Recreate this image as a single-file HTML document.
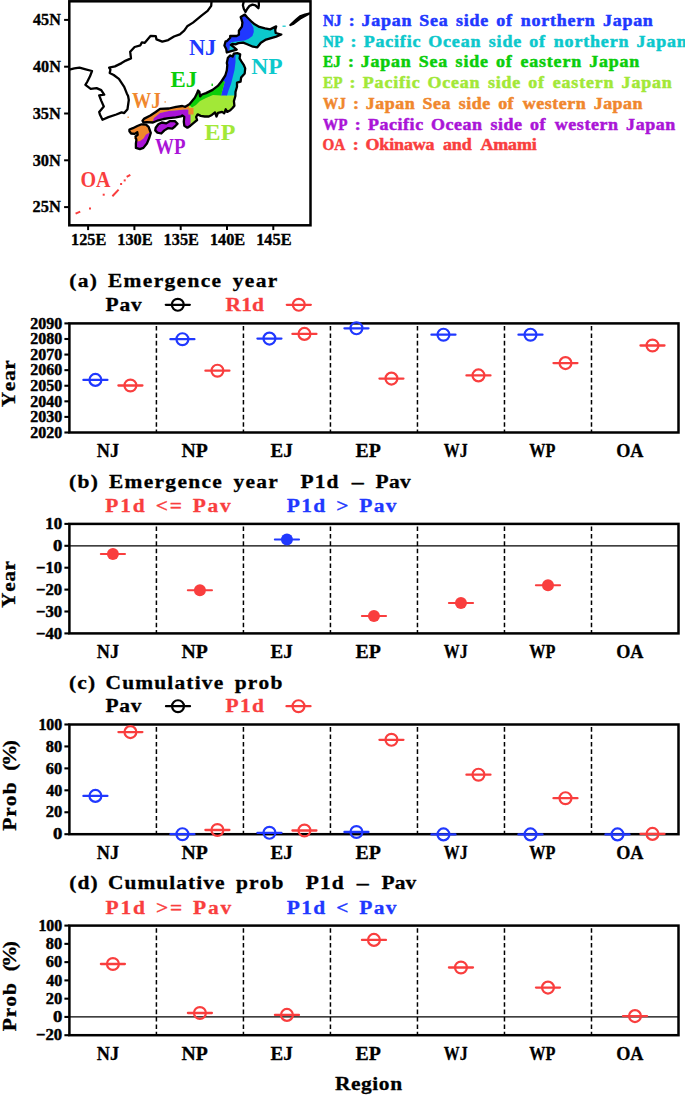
<!DOCTYPE html>
<html><head><meta charset="utf-8"><title>Figure</title>
<style>html,body{margin:0;padding:0;background:#fff;width:685px;height:1095px;overflow:hidden}svg{display:block}</style>
</head><body>
<svg width="685" height="1095" viewBox="0 0 685 1095">
<rect width="685" height="1095" fill="#fff"/>
<text transform="scale(1.1000,1)" x="62.96" y="287.40" fill="#000" style="font-family:'Liberation Serif';font-weight:bold;font-size:19.5px;font-kerning:none;letter-spacing:1.229px;stroke:#000;stroke-width:0.3px;stroke-linejoin:round">(a)</text>
<text transform="scale(1.1000,1)" x="98.13" y="287.40" fill="#000" style="font-family:'Liberation Serif';font-weight:bold;font-size:19.5px;font-kerning:none;letter-spacing:1.229px;stroke:#000;stroke-width:0.3px;stroke-linejoin:round">Emergence</text>
<text transform="scale(1.1000,1)" x="211.56" y="287.40" fill="#000" style="font-family:'Liberation Serif';font-weight:bold;font-size:19.5px;font-kerning:none;letter-spacing:1.229px;stroke:#000;stroke-width:0.3px;stroke-linejoin:round">year</text>
<text transform="scale(1.1000,1)" x="95.85" y="311.00" fill="#000" style="font-family:'Liberation Serif';font-weight:bold;font-size:19.5px;font-kerning:none;letter-spacing:0.779px;stroke:#000;stroke-width:0.3px;stroke-linejoin:round">Pav</text>
<line x1="165.80" y1="304.80" x2="189.80" y2="304.80" stroke="#000" stroke-width="2.3" stroke-linecap="round"/>
<circle cx="177.80" cy="304.80" r="5.95" fill="none" stroke="#000" stroke-width="2.2"/>
<text transform="scale(1.1000,1)" x="205.03" y="311.00" fill="#f93e3e" style="font-family:'Liberation Serif';font-weight:bold;font-size:19.5px;font-kerning:none;letter-spacing:0.165px;stroke:#f93e3e;stroke-width:0.3px;stroke-linejoin:round">R1d</text>
<line x1="286.80" y1="304.80" x2="310.80" y2="304.80" stroke="#f93e3e" stroke-width="2.3" stroke-linecap="round"/>
<circle cx="298.80" cy="304.80" r="5.95" fill="none" stroke="#f93e3e" stroke-width="2.2"/>
<line x1="156.41" y1="323.40" x2="156.41" y2="432.50" stroke="#000" stroke-width="1.5" stroke-dasharray="4.6 2.8" stroke-dashoffset="-2.6"/>
<line x1="243.43" y1="323.40" x2="243.43" y2="432.50" stroke="#000" stroke-width="1.5" stroke-dasharray="4.6 2.8" stroke-dashoffset="-2.6"/>
<line x1="330.44" y1="323.40" x2="330.44" y2="432.50" stroke="#000" stroke-width="1.5" stroke-dasharray="4.6 2.8" stroke-dashoffset="-2.6"/>
<line x1="417.46" y1="323.40" x2="417.46" y2="432.50" stroke="#000" stroke-width="1.5" stroke-dasharray="4.6 2.8" stroke-dashoffset="-2.6"/>
<line x1="504.47" y1="323.40" x2="504.47" y2="432.50" stroke="#000" stroke-width="1.5" stroke-dasharray="4.6 2.8" stroke-dashoffset="-2.6"/>
<line x1="591.49" y1="323.40" x2="591.49" y2="432.50" stroke="#000" stroke-width="1.5" stroke-dasharray="4.6 2.8" stroke-dashoffset="-2.6"/>
<line x1="64.4" y1="323.40" x2="69.40" y2="323.40" stroke="#000" stroke-width="2.1"/>
<text transform="scale(0.9961,1)" x="30.45" y="328.60" fill="#000" style="font-family:'Liberation Serif';font-weight:bold;font-size:16.0px;font-kerning:none;letter-spacing:0.000px;stroke:#000;stroke-width:0.45px;stroke-linejoin:round">2090</text>
<line x1="64.4" y1="338.99" x2="69.40" y2="338.99" stroke="#000" stroke-width="2.1"/>
<text transform="scale(0.9961,1)" x="30.45" y="344.19" fill="#000" style="font-family:'Liberation Serif';font-weight:bold;font-size:16.0px;font-kerning:none;letter-spacing:0.000px;stroke:#000;stroke-width:0.45px;stroke-linejoin:round">2080</text>
<line x1="64.4" y1="354.57" x2="69.40" y2="354.57" stroke="#000" stroke-width="2.1"/>
<text transform="scale(0.9961,1)" x="30.45" y="359.77" fill="#000" style="font-family:'Liberation Serif';font-weight:bold;font-size:16.0px;font-kerning:none;letter-spacing:0.000px;stroke:#000;stroke-width:0.45px;stroke-linejoin:round">2070</text>
<line x1="64.4" y1="370.16" x2="69.40" y2="370.16" stroke="#000" stroke-width="2.1"/>
<text transform="scale(0.9961,1)" x="30.45" y="375.36" fill="#000" style="font-family:'Liberation Serif';font-weight:bold;font-size:16.0px;font-kerning:none;letter-spacing:0.000px;stroke:#000;stroke-width:0.45px;stroke-linejoin:round">2060</text>
<line x1="64.4" y1="385.74" x2="69.40" y2="385.74" stroke="#000" stroke-width="2.1"/>
<text transform="scale(0.9961,1)" x="30.45" y="390.94" fill="#000" style="font-family:'Liberation Serif';font-weight:bold;font-size:16.0px;font-kerning:none;letter-spacing:0.000px;stroke:#000;stroke-width:0.45px;stroke-linejoin:round">2050</text>
<line x1="64.4" y1="401.33" x2="69.40" y2="401.33" stroke="#000" stroke-width="2.1"/>
<text transform="scale(0.9961,1)" x="30.45" y="406.53" fill="#000" style="font-family:'Liberation Serif';font-weight:bold;font-size:16.0px;font-kerning:none;letter-spacing:0.000px;stroke:#000;stroke-width:0.45px;stroke-linejoin:round">2040</text>
<line x1="64.4" y1="416.91" x2="69.40" y2="416.91" stroke="#000" stroke-width="2.1"/>
<text transform="scale(0.9961,1)" x="30.45" y="422.11" fill="#000" style="font-family:'Liberation Serif';font-weight:bold;font-size:16.0px;font-kerning:none;letter-spacing:0.000px;stroke:#000;stroke-width:0.45px;stroke-linejoin:round">2030</text>
<line x1="64.4" y1="432.50" x2="69.40" y2="432.50" stroke="#000" stroke-width="2.1"/>
<text transform="scale(0.9961,1)" x="30.45" y="437.70" fill="#000" style="font-family:'Liberation Serif';font-weight:bold;font-size:16.0px;font-kerning:none;letter-spacing:0.000px;stroke:#000;stroke-width:0.45px;stroke-linejoin:round">2020</text>
<rect x="69.40" y="323.40" width="609.10" height="109.10" fill="none" stroke="#000" stroke-width="2.5"/>
<text transform="scale(0.9334,1)" x="103.77" y="457.10" fill="#000" style="font-family:'Liberation Serif';font-weight:bold;font-size:19.5px;font-kerning:none;letter-spacing:0.000px;stroke:#000;stroke-width:0.3px;stroke-linejoin:round">NJ</text>
<text transform="scale(1.0132,1)" x="179.26" y="457.10" fill="#000" style="font-family:'Liberation Serif';font-weight:bold;font-size:19.5px;font-kerning:none;letter-spacing:0.000px;stroke:#000;stroke-width:0.3px;stroke-linejoin:round">NP</text>
<text transform="scale(0.9822,1)" x="275.48" y="457.10" fill="#000" style="font-family:'Liberation Serif';font-weight:bold;font-size:19.5px;font-kerning:none;letter-spacing:0.000px;stroke:#000;stroke-width:0.3px;stroke-linejoin:round">EJ</text>
<text transform="scale(1.0195,1)" x="348.77" y="457.10" fill="#000" style="font-family:'Liberation Serif';font-weight:bold;font-size:19.5px;font-kerning:none;letter-spacing:0.000px;stroke:#000;stroke-width:0.3px;stroke-linejoin:round">EP</text>
<text transform="scale(0.8157,1)" x="544.14" y="457.10" fill="#000" style="font-family:'Liberation Serif';font-weight:bold;font-size:19.5px;font-kerning:none;letter-spacing:0.000px;stroke:#000;stroke-width:0.3px;stroke-linejoin:round">WJ</text>
<text transform="scale(0.8338,1)" x="634.77" y="457.10" fill="#000" style="font-family:'Liberation Serif';font-weight:bold;font-size:19.5px;font-kerning:none;letter-spacing:0.000px;stroke:#000;stroke-width:0.3px;stroke-linejoin:round">WP</text>
<text transform="scale(0.9341,1)" x="659.67" y="457.10" fill="#000" style="font-family:'Liberation Serif';font-weight:bold;font-size:19.5px;font-kerning:none;letter-spacing:0.000px;stroke:#000;stroke-width:0.3px;stroke-linejoin:round">OA</text>
<g transform="translate(15.30,0) rotate(-90)">
<text transform="scale(1.1000,1)" x="-370.16" y="0.00" fill="#000" style="font-family:'Liberation Serif';font-weight:bold;font-size:19.5px;font-kerning:none;letter-spacing:0.479px;stroke:#000;stroke-width:0.3px;stroke-linejoin:round">Year</text>
</g>
<line x1="83.41" y1="379.90" x2="107.41" y2="379.90" stroke="#2038ff" stroke-width="2.3" stroke-linecap="round"/>
<circle cx="95.41" cy="379.90" r="5.95" fill="none" stroke="#2038ff" stroke-width="2.2"/>
<line x1="118.41" y1="385.50" x2="142.41" y2="385.50" stroke="#f93e3e" stroke-width="2.3" stroke-linecap="round"/>
<circle cx="130.41" cy="385.50" r="5.95" fill="none" stroke="#f93e3e" stroke-width="2.2"/>
<line x1="170.42" y1="339.20" x2="194.42" y2="339.20" stroke="#2038ff" stroke-width="2.3" stroke-linecap="round"/>
<circle cx="182.42" cy="339.20" r="5.95" fill="none" stroke="#2038ff" stroke-width="2.2"/>
<line x1="205.42" y1="370.70" x2="229.42" y2="370.70" stroke="#f93e3e" stroke-width="2.3" stroke-linecap="round"/>
<circle cx="217.42" cy="370.70" r="5.95" fill="none" stroke="#f93e3e" stroke-width="2.2"/>
<line x1="257.44" y1="338.60" x2="281.44" y2="338.60" stroke="#2038ff" stroke-width="2.3" stroke-linecap="round"/>
<circle cx="269.44" cy="338.60" r="5.95" fill="none" stroke="#2038ff" stroke-width="2.2"/>
<line x1="292.44" y1="333.90" x2="316.44" y2="333.90" stroke="#f93e3e" stroke-width="2.3" stroke-linecap="round"/>
<circle cx="304.44" cy="333.90" r="5.95" fill="none" stroke="#f93e3e" stroke-width="2.2"/>
<line x1="344.45" y1="328.30" x2="368.45" y2="328.30" stroke="#2038ff" stroke-width="2.3" stroke-linecap="round"/>
<circle cx="356.45" cy="328.30" r="5.95" fill="none" stroke="#2038ff" stroke-width="2.2"/>
<line x1="379.45" y1="378.60" x2="403.45" y2="378.60" stroke="#f93e3e" stroke-width="2.3" stroke-linecap="round"/>
<circle cx="391.45" cy="378.60" r="5.95" fill="none" stroke="#f93e3e" stroke-width="2.2"/>
<line x1="431.46" y1="334.70" x2="455.46" y2="334.70" stroke="#2038ff" stroke-width="2.3" stroke-linecap="round"/>
<circle cx="443.46" cy="334.70" r="5.95" fill="none" stroke="#2038ff" stroke-width="2.2"/>
<line x1="466.46" y1="375.40" x2="490.46" y2="375.40" stroke="#f93e3e" stroke-width="2.3" stroke-linecap="round"/>
<circle cx="478.46" cy="375.40" r="5.95" fill="none" stroke="#f93e3e" stroke-width="2.2"/>
<line x1="518.48" y1="334.70" x2="542.48" y2="334.70" stroke="#2038ff" stroke-width="2.3" stroke-linecap="round"/>
<circle cx="530.48" cy="334.70" r="5.95" fill="none" stroke="#2038ff" stroke-width="2.2"/>
<line x1="553.48" y1="363.10" x2="577.48" y2="363.10" stroke="#f93e3e" stroke-width="2.3" stroke-linecap="round"/>
<circle cx="565.48" cy="363.10" r="5.95" fill="none" stroke="#f93e3e" stroke-width="2.2"/>
<line x1="640.49" y1="345.50" x2="664.49" y2="345.50" stroke="#f93e3e" stroke-width="2.3" stroke-linecap="round"/>
<circle cx="652.49" cy="345.50" r="5.95" fill="none" stroke="#f93e3e" stroke-width="2.2"/>
<text transform="scale(1.1000,1)" x="62.78" y="487.80" fill="#000" style="font-family:'Liberation Serif';font-weight:bold;font-size:19.5px;font-kerning:none;letter-spacing:1.201px;stroke:#000;stroke-width:0.3px;stroke-linejoin:round">(b)</text>
<text transform="scale(1.1000,1)" x="98.99" y="487.80" fill="#000" style="font-family:'Liberation Serif';font-weight:bold;font-size:19.5px;font-kerning:none;letter-spacing:1.201px;stroke:#000;stroke-width:0.3px;stroke-linejoin:round">Emergence</text>
<text transform="scale(1.1000,1)" x="212.19" y="487.80" fill="#000" style="font-family:'Liberation Serif';font-weight:bold;font-size:19.5px;font-kerning:none;letter-spacing:1.201px;stroke:#000;stroke-width:0.3px;stroke-linejoin:round">year</text>
<text transform="scale(1.1000,1)" x="273.30" y="487.80" fill="#000" style="font-family:'Liberation Serif';font-weight:bold;font-size:19.5px;font-kerning:none;letter-spacing:0.932px;stroke:#000;stroke-width:0.3px;stroke-linejoin:round">P1d</text>
<text transform="scale(1.2280,1)" x="286.38" y="487.80" fill="#000" style="font-family:'Liberation Serif';font-weight:bold;font-size:19.5px;font-kerning:none;letter-spacing:0.000px;stroke:#000;stroke-width:0.3px;stroke-linejoin:round">–</text>
<text transform="scale(1.1000,1)" x="341.48" y="487.80" fill="#000" style="font-family:'Liberation Serif';font-weight:bold;font-size:19.5px;font-kerning:none;letter-spacing:0.279px;stroke:#000;stroke-width:0.3px;stroke-linejoin:round">Pav</text>
<text transform="scale(1.1000,1)" x="95.76" y="511.80" fill="#f93e3e" style="font-family:'Liberation Serif';font-weight:bold;font-size:19.5px;font-kerning:none;letter-spacing:1.637px;stroke:#f93e3e;stroke-width:0.3px;stroke-linejoin:round">P1d</text>
<text transform="scale(1.1000,1)" x="141.52" y="511.80" fill="#f93e3e" style="font-family:'Liberation Serif';font-weight:bold;font-size:19.5px;font-kerning:none;letter-spacing:1.637px;stroke:#f93e3e;stroke-width:0.3px;stroke-linejoin:round">&lt;=</text>
<text transform="scale(1.1000,1)" x="175.13" y="511.80" fill="#f93e3e" style="font-family:'Liberation Serif';font-weight:bold;font-size:19.5px;font-kerning:none;letter-spacing:1.637px;stroke:#f93e3e;stroke-width:0.3px;stroke-linejoin:round">Pav</text>
<text transform="scale(1.1000,1)" x="260.76" y="511.80" fill="#2038ff" style="font-family:'Liberation Serif';font-weight:bold;font-size:19.5px;font-kerning:none;letter-spacing:1.233px;stroke:#2038ff;stroke-width:0.3px;stroke-linejoin:round">P1d</text>
<text transform="scale(1.1000,1)" x="305.69" y="511.80" fill="#2038ff" style="font-family:'Liberation Serif';font-weight:bold;font-size:19.5px;font-kerning:none;letter-spacing:0.000px;stroke:#2038ff;stroke-width:0.3px;stroke-linejoin:round">&gt;</text>
<text transform="scale(1.1000,1)" x="326.58" y="511.80" fill="#2038ff" style="font-family:'Liberation Serif';font-weight:bold;font-size:19.5px;font-kerning:none;letter-spacing:1.233px;stroke:#2038ff;stroke-width:0.3px;stroke-linejoin:round">Pav</text>
<line x1="156.41" y1="523.90" x2="156.41" y2="633.40" stroke="#000" stroke-width="1.5" stroke-dasharray="4.6 2.8" stroke-dashoffset="-2.6"/>
<line x1="243.43" y1="523.90" x2="243.43" y2="633.40" stroke="#000" stroke-width="1.5" stroke-dasharray="4.6 2.8" stroke-dashoffset="-2.6"/>
<line x1="330.44" y1="523.90" x2="330.44" y2="633.40" stroke="#000" stroke-width="1.5" stroke-dasharray="4.6 2.8" stroke-dashoffset="-2.6"/>
<line x1="417.46" y1="523.90" x2="417.46" y2="633.40" stroke="#000" stroke-width="1.5" stroke-dasharray="4.6 2.8" stroke-dashoffset="-2.6"/>
<line x1="504.47" y1="523.90" x2="504.47" y2="633.40" stroke="#000" stroke-width="1.5" stroke-dasharray="4.6 2.8" stroke-dashoffset="-2.6"/>
<line x1="591.49" y1="523.90" x2="591.49" y2="633.40" stroke="#000" stroke-width="1.5" stroke-dasharray="4.6 2.8" stroke-dashoffset="-2.6"/>
<line x1="69.40" y1="545.80" x2="678.50" y2="545.80" stroke="#000" stroke-width="1.2"/>
<line x1="64.4" y1="523.90" x2="69.40" y2="523.90" stroke="#000" stroke-width="2.1"/>
<text transform="scale(1.0560,1)" x="42.94" y="529.10" fill="#000" style="font-family:'Liberation Serif';font-weight:bold;font-size:16.0px;font-kerning:none;letter-spacing:0.000px;stroke:#000;stroke-width:0.45px;stroke-linejoin:round">10</text>
<line x1="64.4" y1="545.80" x2="69.40" y2="545.80" stroke="#000" stroke-width="2.1"/>
<text transform="scale(1.1650,1)" x="45.49" y="551.00" fill="#000" style="font-family:'Liberation Serif';font-weight:bold;font-size:16.0px;font-kerning:none;letter-spacing:0.000px;stroke:#000;stroke-width:0.45px;stroke-linejoin:round">0</text>
<line x1="64.4" y1="567.70" x2="69.40" y2="567.70" stroke="#000" stroke-width="2.1"/>
<text transform="scale(1.0438,1)" x="34.51" y="572.90" fill="#000" style="font-family:'Liberation Serif';font-weight:bold;font-size:16.0px;font-kerning:none;letter-spacing:0.000px;stroke:#000;stroke-width:0.45px;stroke-linejoin:round">−10</text>
<line x1="64.4" y1="589.60" x2="69.40" y2="589.60" stroke="#000" stroke-width="2.1"/>
<text transform="scale(1.0438,1)" x="34.51" y="594.80" fill="#000" style="font-family:'Liberation Serif';font-weight:bold;font-size:16.0px;font-kerning:none;letter-spacing:0.000px;stroke:#000;stroke-width:0.45px;stroke-linejoin:round">−20</text>
<line x1="64.4" y1="611.50" x2="69.40" y2="611.50" stroke="#000" stroke-width="2.1"/>
<text transform="scale(1.0438,1)" x="34.51" y="616.70" fill="#000" style="font-family:'Liberation Serif';font-weight:bold;font-size:16.0px;font-kerning:none;letter-spacing:0.000px;stroke:#000;stroke-width:0.45px;stroke-linejoin:round">−30</text>
<line x1="64.4" y1="633.40" x2="69.40" y2="633.40" stroke="#000" stroke-width="2.1"/>
<text transform="scale(1.0438,1)" x="34.51" y="638.60" fill="#000" style="font-family:'Liberation Serif';font-weight:bold;font-size:16.0px;font-kerning:none;letter-spacing:0.000px;stroke:#000;stroke-width:0.45px;stroke-linejoin:round">−40</text>
<rect x="69.40" y="523.90" width="609.10" height="109.50" fill="none" stroke="#000" stroke-width="2.5"/>
<text transform="scale(0.9334,1)" x="103.77" y="658.00" fill="#000" style="font-family:'Liberation Serif';font-weight:bold;font-size:19.5px;font-kerning:none;letter-spacing:0.000px;stroke:#000;stroke-width:0.3px;stroke-linejoin:round">NJ</text>
<text transform="scale(1.0132,1)" x="179.26" y="658.00" fill="#000" style="font-family:'Liberation Serif';font-weight:bold;font-size:19.5px;font-kerning:none;letter-spacing:0.000px;stroke:#000;stroke-width:0.3px;stroke-linejoin:round">NP</text>
<text transform="scale(0.9822,1)" x="275.48" y="658.00" fill="#000" style="font-family:'Liberation Serif';font-weight:bold;font-size:19.5px;font-kerning:none;letter-spacing:0.000px;stroke:#000;stroke-width:0.3px;stroke-linejoin:round">EJ</text>
<text transform="scale(1.0195,1)" x="348.77" y="658.00" fill="#000" style="font-family:'Liberation Serif';font-weight:bold;font-size:19.5px;font-kerning:none;letter-spacing:0.000px;stroke:#000;stroke-width:0.3px;stroke-linejoin:round">EP</text>
<text transform="scale(0.8157,1)" x="544.14" y="658.00" fill="#000" style="font-family:'Liberation Serif';font-weight:bold;font-size:19.5px;font-kerning:none;letter-spacing:0.000px;stroke:#000;stroke-width:0.3px;stroke-linejoin:round">WJ</text>
<text transform="scale(0.8338,1)" x="634.77" y="658.00" fill="#000" style="font-family:'Liberation Serif';font-weight:bold;font-size:19.5px;font-kerning:none;letter-spacing:0.000px;stroke:#000;stroke-width:0.3px;stroke-linejoin:round">WP</text>
<text transform="scale(0.9341,1)" x="659.67" y="658.00" fill="#000" style="font-family:'Liberation Serif';font-weight:bold;font-size:19.5px;font-kerning:none;letter-spacing:0.000px;stroke:#000;stroke-width:0.3px;stroke-linejoin:round">OA</text>
<g transform="translate(15.30,0) rotate(-90)">
<text transform="scale(1.1000,1)" x="-552.62" y="0.00" fill="#000" style="font-family:'Liberation Serif';font-weight:bold;font-size:19.5px;font-kerning:none;letter-spacing:0.479px;stroke:#000;stroke-width:0.3px;stroke-linejoin:round">Year</text>
</g>
<line x1="100.81" y1="553.90" x2="125.01" y2="553.90" stroke="#f93e3e" stroke-width="2" stroke-linecap="round"/>
<circle cx="112.91" cy="553.90" r="6" fill="#f93e3e"/>
<line x1="187.82" y1="590.20" x2="212.02" y2="590.20" stroke="#f93e3e" stroke-width="2" stroke-linecap="round"/>
<circle cx="199.92" cy="590.20" r="6" fill="#f93e3e"/>
<line x1="274.84" y1="539.40" x2="299.04" y2="539.40" stroke="#2038ff" stroke-width="2" stroke-linecap="round"/>
<circle cx="286.94" cy="539.40" r="6" fill="#2038ff"/>
<line x1="361.85" y1="616.10" x2="386.05" y2="616.10" stroke="#f93e3e" stroke-width="2" stroke-linecap="round"/>
<circle cx="373.95" cy="616.10" r="6" fill="#f93e3e"/>
<line x1="448.86" y1="602.90" x2="473.06" y2="602.90" stroke="#f93e3e" stroke-width="2" stroke-linecap="round"/>
<circle cx="460.96" cy="602.90" r="6" fill="#f93e3e"/>
<line x1="535.88" y1="585.30" x2="560.08" y2="585.30" stroke="#f93e3e" stroke-width="2" stroke-linecap="round"/>
<circle cx="547.98" cy="585.30" r="6" fill="#f93e3e"/>
<text transform="scale(1.1000,1)" x="62.78" y="688.60" fill="#000" style="font-family:'Liberation Serif';font-weight:bold;font-size:19.5px;font-kerning:none;letter-spacing:1.065px;stroke:#000;stroke-width:0.3px;stroke-linejoin:round">(c)</text>
<text transform="scale(1.1000,1)" x="95.91" y="688.60" fill="#000" style="font-family:'Liberation Serif';font-weight:bold;font-size:19.5px;font-kerning:none;letter-spacing:1.065px;stroke:#000;stroke-width:0.3px;stroke-linejoin:round">Cumulative</text>
<text transform="scale(1.1000,1)" x="213.41" y="688.60" fill="#000" style="font-family:'Liberation Serif';font-weight:bold;font-size:19.5px;font-kerning:none;letter-spacing:1.065px;stroke:#000;stroke-width:0.3px;stroke-linejoin:round">prob</text>
<text transform="scale(1.1000,1)" x="95.85" y="712.20" fill="#000" style="font-family:'Liberation Serif';font-weight:bold;font-size:19.5px;font-kerning:none;letter-spacing:0.734px;stroke:#000;stroke-width:0.3px;stroke-linejoin:round">Pav</text>
<line x1="166.00" y1="706.20" x2="190.00" y2="706.20" stroke="#000" stroke-width="2.3" stroke-linecap="round"/>
<circle cx="178.00" cy="706.20" r="5.95" fill="none" stroke="#000" stroke-width="2.2"/>
<text transform="scale(1.1000,1)" x="205.12" y="712.20" fill="#f93e3e" style="font-family:'Liberation Serif';font-weight:bold;font-size:19.5px;font-kerning:none;letter-spacing:1.114px;stroke:#f93e3e;stroke-width:0.3px;stroke-linejoin:round">P1d</text>
<line x1="286.50" y1="706.20" x2="310.50" y2="706.20" stroke="#f93e3e" stroke-width="2.3" stroke-linecap="round"/>
<circle cx="298.50" cy="706.20" r="5.95" fill="none" stroke="#f93e3e" stroke-width="2.2"/>
<line x1="156.41" y1="724.50" x2="156.41" y2="834.20" stroke="#000" stroke-width="1.5" stroke-dasharray="4.6 2.8" stroke-dashoffset="-2.6"/>
<line x1="243.43" y1="724.50" x2="243.43" y2="834.20" stroke="#000" stroke-width="1.5" stroke-dasharray="4.6 2.8" stroke-dashoffset="-2.6"/>
<line x1="330.44" y1="724.50" x2="330.44" y2="834.20" stroke="#000" stroke-width="1.5" stroke-dasharray="4.6 2.8" stroke-dashoffset="-2.6"/>
<line x1="417.46" y1="724.50" x2="417.46" y2="834.20" stroke="#000" stroke-width="1.5" stroke-dasharray="4.6 2.8" stroke-dashoffset="-2.6"/>
<line x1="504.47" y1="724.50" x2="504.47" y2="834.20" stroke="#000" stroke-width="1.5" stroke-dasharray="4.6 2.8" stroke-dashoffset="-2.6"/>
<line x1="591.49" y1="724.50" x2="591.49" y2="834.20" stroke="#000" stroke-width="1.5" stroke-dasharray="4.6 2.8" stroke-dashoffset="-2.6"/>
<line x1="64.4" y1="724.50" x2="69.40" y2="724.50" stroke="#000" stroke-width="2.1"/>
<text transform="scale(0.9905,1)" x="38.80" y="729.70" fill="#000" style="font-family:'Liberation Serif';font-weight:bold;font-size:16.0px;font-kerning:none;letter-spacing:0.000px;stroke:#000;stroke-width:0.45px;stroke-linejoin:round">100</text>
<line x1="64.4" y1="746.44" x2="69.40" y2="746.44" stroke="#000" stroke-width="2.1"/>
<text transform="scale(1.0229,1)" x="44.83" y="751.64" fill="#000" style="font-family:'Liberation Serif';font-weight:bold;font-size:16.0px;font-kerning:none;letter-spacing:0.000px;stroke:#000;stroke-width:0.45px;stroke-linejoin:round">80</text>
<line x1="64.4" y1="768.38" x2="69.40" y2="768.38" stroke="#000" stroke-width="2.1"/>
<text transform="scale(1.0240,1)" x="44.77" y="773.58" fill="#000" style="font-family:'Liberation Serif';font-weight:bold;font-size:16.0px;font-kerning:none;letter-spacing:0.000px;stroke:#000;stroke-width:0.45px;stroke-linejoin:round">60</text>
<line x1="64.4" y1="790.32" x2="69.40" y2="790.32" stroke="#000" stroke-width="2.1"/>
<text transform="scale(1.0019,1)" x="46.10" y="795.52" fill="#000" style="font-family:'Liberation Serif';font-weight:bold;font-size:16.0px;font-kerning:none;letter-spacing:0.000px;stroke:#000;stroke-width:0.45px;stroke-linejoin:round">40</text>
<line x1="64.4" y1="812.26" x2="69.40" y2="812.26" stroke="#000" stroke-width="2.1"/>
<text transform="scale(1.0327,1)" x="44.26" y="817.46" fill="#000" style="font-family:'Liberation Serif';font-weight:bold;font-size:16.0px;font-kerning:none;letter-spacing:0.000px;stroke:#000;stroke-width:0.45px;stroke-linejoin:round">20</text>
<line x1="64.4" y1="834.20" x2="69.40" y2="834.20" stroke="#000" stroke-width="2.1"/>
<text transform="scale(1.1650,1)" x="45.49" y="839.40" fill="#000" style="font-family:'Liberation Serif';font-weight:bold;font-size:16.0px;font-kerning:none;letter-spacing:0.000px;stroke:#000;stroke-width:0.45px;stroke-linejoin:round">0</text>
<rect x="69.40" y="724.50" width="609.10" height="109.70" fill="none" stroke="#000" stroke-width="2.5"/>
<text transform="scale(0.9334,1)" x="103.77" y="858.80" fill="#000" style="font-family:'Liberation Serif';font-weight:bold;font-size:19.5px;font-kerning:none;letter-spacing:0.000px;stroke:#000;stroke-width:0.3px;stroke-linejoin:round">NJ</text>
<text transform="scale(1.0132,1)" x="179.26" y="858.80" fill="#000" style="font-family:'Liberation Serif';font-weight:bold;font-size:19.5px;font-kerning:none;letter-spacing:0.000px;stroke:#000;stroke-width:0.3px;stroke-linejoin:round">NP</text>
<text transform="scale(0.9822,1)" x="275.48" y="858.80" fill="#000" style="font-family:'Liberation Serif';font-weight:bold;font-size:19.5px;font-kerning:none;letter-spacing:0.000px;stroke:#000;stroke-width:0.3px;stroke-linejoin:round">EJ</text>
<text transform="scale(1.0195,1)" x="348.77" y="858.80" fill="#000" style="font-family:'Liberation Serif';font-weight:bold;font-size:19.5px;font-kerning:none;letter-spacing:0.000px;stroke:#000;stroke-width:0.3px;stroke-linejoin:round">EP</text>
<text transform="scale(0.8157,1)" x="544.14" y="858.80" fill="#000" style="font-family:'Liberation Serif';font-weight:bold;font-size:19.5px;font-kerning:none;letter-spacing:0.000px;stroke:#000;stroke-width:0.3px;stroke-linejoin:round">WJ</text>
<text transform="scale(0.8338,1)" x="634.77" y="858.80" fill="#000" style="font-family:'Liberation Serif';font-weight:bold;font-size:19.5px;font-kerning:none;letter-spacing:0.000px;stroke:#000;stroke-width:0.3px;stroke-linejoin:round">WP</text>
<text transform="scale(0.9341,1)" x="659.67" y="858.80" fill="#000" style="font-family:'Liberation Serif';font-weight:bold;font-size:19.5px;font-kerning:none;letter-spacing:0.000px;stroke:#000;stroke-width:0.3px;stroke-linejoin:round">OA</text>
<g transform="translate(15.80,0) rotate(-90)">
<text transform="scale(1.1000,1)" x="-755.33" y="0.00" fill="#000" style="font-family:'Liberation Serif';font-weight:bold;font-size:19.5px;font-kerning:none;letter-spacing:0.957px;stroke:#000;stroke-width:0.3px;stroke-linejoin:round">Prob</text>
</g>
<g transform="translate(15.80,0) rotate(-90)">
<text transform="scale(1.1000,1)" x="-700.58" y="0.00" fill="#000" style="font-family:'Liberation Serif';font-weight:bold;font-size:19.5px;font-kerning:none;letter-spacing:-2.387px;stroke:#000;stroke-width:0.3px;stroke-linejoin:round">(%)</text>
</g>
<line x1="83.41" y1="795.90" x2="107.41" y2="795.90" stroke="#2038ff" stroke-width="2.3" stroke-linecap="round"/>
<circle cx="95.41" cy="795.90" r="5.95" fill="none" stroke="#2038ff" stroke-width="2.2"/>
<line x1="118.41" y1="732.10" x2="142.41" y2="732.10" stroke="#f93e3e" stroke-width="2.3" stroke-linecap="round"/>
<circle cx="130.41" cy="732.10" r="5.95" fill="none" stroke="#f93e3e" stroke-width="2.2"/>
<line x1="170.42" y1="834.20" x2="194.42" y2="834.20" stroke="#2038ff" stroke-width="2.3" stroke-linecap="round"/>
<circle cx="182.42" cy="834.20" r="5.95" fill="none" stroke="#2038ff" stroke-width="2.2"/>
<line x1="205.42" y1="830.00" x2="229.42" y2="830.00" stroke="#f93e3e" stroke-width="2.3" stroke-linecap="round"/>
<circle cx="217.42" cy="830.00" r="5.95" fill="none" stroke="#f93e3e" stroke-width="2.2"/>
<line x1="257.44" y1="832.80" x2="281.44" y2="832.80" stroke="#2038ff" stroke-width="2.3" stroke-linecap="round"/>
<circle cx="269.44" cy="832.80" r="5.95" fill="none" stroke="#2038ff" stroke-width="2.2"/>
<line x1="292.44" y1="830.50" x2="316.44" y2="830.50" stroke="#f93e3e" stroke-width="2.3" stroke-linecap="round"/>
<circle cx="304.44" cy="830.50" r="5.95" fill="none" stroke="#f93e3e" stroke-width="2.2"/>
<line x1="344.45" y1="832.00" x2="368.45" y2="832.00" stroke="#2038ff" stroke-width="2.3" stroke-linecap="round"/>
<circle cx="356.45" cy="832.00" r="5.95" fill="none" stroke="#2038ff" stroke-width="2.2"/>
<line x1="379.45" y1="739.80" x2="403.45" y2="739.80" stroke="#f93e3e" stroke-width="2.3" stroke-linecap="round"/>
<circle cx="391.45" cy="739.80" r="5.95" fill="none" stroke="#f93e3e" stroke-width="2.2"/>
<line x1="431.46" y1="834.40" x2="455.46" y2="834.40" stroke="#2038ff" stroke-width="2.3" stroke-linecap="round"/>
<circle cx="443.46" cy="834.40" r="5.95" fill="none" stroke="#2038ff" stroke-width="2.2"/>
<line x1="466.46" y1="774.70" x2="490.46" y2="774.70" stroke="#f93e3e" stroke-width="2.3" stroke-linecap="round"/>
<circle cx="478.46" cy="774.70" r="5.95" fill="none" stroke="#f93e3e" stroke-width="2.2"/>
<line x1="518.48" y1="834.40" x2="542.48" y2="834.40" stroke="#2038ff" stroke-width="2.3" stroke-linecap="round"/>
<circle cx="530.48" cy="834.40" r="5.95" fill="none" stroke="#2038ff" stroke-width="2.2"/>
<line x1="553.48" y1="798.20" x2="577.48" y2="798.20" stroke="#f93e3e" stroke-width="2.3" stroke-linecap="round"/>
<circle cx="565.48" cy="798.20" r="5.95" fill="none" stroke="#f93e3e" stroke-width="2.2"/>
<line x1="605.49" y1="834.40" x2="629.49" y2="834.40" stroke="#2038ff" stroke-width="2.3" stroke-linecap="round"/>
<circle cx="617.49" cy="834.40" r="5.95" fill="none" stroke="#2038ff" stroke-width="2.2"/>
<line x1="640.49" y1="833.90" x2="664.49" y2="833.90" stroke="#f93e3e" stroke-width="2.3" stroke-linecap="round"/>
<circle cx="652.49" cy="833.90" r="5.95" fill="none" stroke="#f93e3e" stroke-width="2.2"/>
<text transform="scale(1.1000,1)" x="63.05" y="889.40" fill="#000" style="font-family:'Liberation Serif';font-weight:bold;font-size:19.5px;font-kerning:none;letter-spacing:0.954px;stroke:#000;stroke-width:0.3px;stroke-linejoin:round">(d)</text>
<text transform="scale(1.1000,1)" x="98.15" y="889.40" fill="#000" style="font-family:'Liberation Serif';font-weight:bold;font-size:19.5px;font-kerning:none;letter-spacing:0.954px;stroke:#000;stroke-width:0.3px;stroke-linejoin:round">Cumulative</text>
<text transform="scale(1.1000,1)" x="214.65" y="889.40" fill="#000" style="font-family:'Liberation Serif';font-weight:bold;font-size:19.5px;font-kerning:none;letter-spacing:0.954px;stroke:#000;stroke-width:0.3px;stroke-linejoin:round">prob</text>
<text transform="scale(1.1000,1)" x="278.03" y="889.40" fill="#000" style="font-family:'Liberation Serif';font-weight:bold;font-size:19.5px;font-kerning:none;letter-spacing:0.932px;stroke:#000;stroke-width:0.3px;stroke-linejoin:round">P1d</text>
<text transform="scale(1.2280,1)" x="290.53" y="889.40" fill="#000" style="font-family:'Liberation Serif';font-weight:bold;font-size:19.5px;font-kerning:none;letter-spacing:0.000px;stroke:#000;stroke-width:0.3px;stroke-linejoin:round">–</text>
<text transform="scale(1.1000,1)" x="346.76" y="889.40" fill="#000" style="font-family:'Liberation Serif';font-weight:bold;font-size:19.5px;font-kerning:none;letter-spacing:0.143px;stroke:#000;stroke-width:0.3px;stroke-linejoin:round">Pav</text>
<text transform="scale(1.1000,1)" x="95.94" y="913.60" fill="#f93e3e" style="font-family:'Liberation Serif';font-weight:bold;font-size:19.5px;font-kerning:none;letter-spacing:1.695px;stroke:#f93e3e;stroke-width:0.3px;stroke-linejoin:round">P1d</text>
<text transform="scale(1.1000,1)" x="141.79" y="913.60" fill="#f93e3e" style="font-family:'Liberation Serif';font-weight:bold;font-size:19.5px;font-kerning:none;letter-spacing:1.695px;stroke:#f93e3e;stroke-width:0.3px;stroke-linejoin:round">&gt;=</text>
<text transform="scale(1.1000,1)" x="175.47" y="913.60" fill="#f93e3e" style="font-family:'Liberation Serif';font-weight:bold;font-size:19.5px;font-kerning:none;letter-spacing:1.695px;stroke:#f93e3e;stroke-width:0.3px;stroke-linejoin:round">Pav</text>
<text transform="scale(1.1000,1)" x="260.76" y="913.60" fill="#2038ff" style="font-family:'Liberation Serif';font-weight:bold;font-size:19.5px;font-kerning:none;letter-spacing:1.233px;stroke:#2038ff;stroke-width:0.3px;stroke-linejoin:round">P1d</text>
<text transform="scale(1.1000,1)" x="305.71" y="913.60" fill="#2038ff" style="font-family:'Liberation Serif';font-weight:bold;font-size:19.5px;font-kerning:none;letter-spacing:0.000px;stroke:#2038ff;stroke-width:0.3px;stroke-linejoin:round">&lt;</text>
<text transform="scale(1.1000,1)" x="326.58" y="913.60" fill="#2038ff" style="font-family:'Liberation Serif';font-weight:bold;font-size:19.5px;font-kerning:none;letter-spacing:1.233px;stroke:#2038ff;stroke-width:0.3px;stroke-linejoin:round">Pav</text>
<line x1="156.41" y1="925.60" x2="156.41" y2="1035.20" stroke="#000" stroke-width="1.5" stroke-dasharray="4.6 2.8" stroke-dashoffset="-2.6"/>
<line x1="243.43" y1="925.60" x2="243.43" y2="1035.20" stroke="#000" stroke-width="1.5" stroke-dasharray="4.6 2.8" stroke-dashoffset="-2.6"/>
<line x1="330.44" y1="925.60" x2="330.44" y2="1035.20" stroke="#000" stroke-width="1.5" stroke-dasharray="4.6 2.8" stroke-dashoffset="-2.6"/>
<line x1="417.46" y1="925.60" x2="417.46" y2="1035.20" stroke="#000" stroke-width="1.5" stroke-dasharray="4.6 2.8" stroke-dashoffset="-2.6"/>
<line x1="504.47" y1="925.60" x2="504.47" y2="1035.20" stroke="#000" stroke-width="1.5" stroke-dasharray="4.6 2.8" stroke-dashoffset="-2.6"/>
<line x1="591.49" y1="925.60" x2="591.49" y2="1035.20" stroke="#000" stroke-width="1.5" stroke-dasharray="4.6 2.8" stroke-dashoffset="-2.6"/>
<line x1="69.40" y1="1016.93" x2="678.50" y2="1016.93" stroke="#000" stroke-width="1.2"/>
<line x1="64.4" y1="925.60" x2="69.40" y2="925.60" stroke="#000" stroke-width="2.1"/>
<text transform="scale(0.9905,1)" x="38.80" y="930.80" fill="#000" style="font-family:'Liberation Serif';font-weight:bold;font-size:16.0px;font-kerning:none;letter-spacing:0.000px;stroke:#000;stroke-width:0.45px;stroke-linejoin:round">100</text>
<line x1="64.4" y1="943.87" x2="69.40" y2="943.87" stroke="#000" stroke-width="2.1"/>
<text transform="scale(1.0229,1)" x="44.83" y="949.07" fill="#000" style="font-family:'Liberation Serif';font-weight:bold;font-size:16.0px;font-kerning:none;letter-spacing:0.000px;stroke:#000;stroke-width:0.45px;stroke-linejoin:round">80</text>
<line x1="64.4" y1="962.13" x2="69.40" y2="962.13" stroke="#000" stroke-width="2.1"/>
<text transform="scale(1.0240,1)" x="44.77" y="967.33" fill="#000" style="font-family:'Liberation Serif';font-weight:bold;font-size:16.0px;font-kerning:none;letter-spacing:0.000px;stroke:#000;stroke-width:0.45px;stroke-linejoin:round">60</text>
<line x1="64.4" y1="980.40" x2="69.40" y2="980.40" stroke="#000" stroke-width="2.1"/>
<text transform="scale(1.0019,1)" x="46.10" y="985.60" fill="#000" style="font-family:'Liberation Serif';font-weight:bold;font-size:16.0px;font-kerning:none;letter-spacing:0.000px;stroke:#000;stroke-width:0.45px;stroke-linejoin:round">40</text>
<line x1="64.4" y1="998.67" x2="69.40" y2="998.67" stroke="#000" stroke-width="2.1"/>
<text transform="scale(1.0327,1)" x="44.26" y="1003.87" fill="#000" style="font-family:'Liberation Serif';font-weight:bold;font-size:16.0px;font-kerning:none;letter-spacing:0.000px;stroke:#000;stroke-width:0.45px;stroke-linejoin:round">20</text>
<line x1="64.4" y1="1016.93" x2="69.40" y2="1016.93" stroke="#000" stroke-width="2.1"/>
<text transform="scale(1.1650,1)" x="45.49" y="1022.13" fill="#000" style="font-family:'Liberation Serif';font-weight:bold;font-size:16.0px;font-kerning:none;letter-spacing:0.000px;stroke:#000;stroke-width:0.45px;stroke-linejoin:round">0</text>
<line x1="64.4" y1="1035.20" x2="69.40" y2="1035.20" stroke="#000" stroke-width="2.1"/>
<text transform="scale(1.0438,1)" x="34.51" y="1040.40" fill="#000" style="font-family:'Liberation Serif';font-weight:bold;font-size:16.0px;font-kerning:none;letter-spacing:0.000px;stroke:#000;stroke-width:0.45px;stroke-linejoin:round">−20</text>
<rect x="69.40" y="925.60" width="609.10" height="109.60" fill="none" stroke="#000" stroke-width="2.5"/>
<text transform="scale(0.9334,1)" x="103.77" y="1059.80" fill="#000" style="font-family:'Liberation Serif';font-weight:bold;font-size:19.5px;font-kerning:none;letter-spacing:0.000px;stroke:#000;stroke-width:0.3px;stroke-linejoin:round">NJ</text>
<text transform="scale(1.0132,1)" x="179.26" y="1059.80" fill="#000" style="font-family:'Liberation Serif';font-weight:bold;font-size:19.5px;font-kerning:none;letter-spacing:0.000px;stroke:#000;stroke-width:0.3px;stroke-linejoin:round">NP</text>
<text transform="scale(0.9822,1)" x="275.48" y="1059.80" fill="#000" style="font-family:'Liberation Serif';font-weight:bold;font-size:19.5px;font-kerning:none;letter-spacing:0.000px;stroke:#000;stroke-width:0.3px;stroke-linejoin:round">EJ</text>
<text transform="scale(1.0195,1)" x="348.77" y="1059.80" fill="#000" style="font-family:'Liberation Serif';font-weight:bold;font-size:19.5px;font-kerning:none;letter-spacing:0.000px;stroke:#000;stroke-width:0.3px;stroke-linejoin:round">EP</text>
<text transform="scale(0.8157,1)" x="544.14" y="1059.80" fill="#000" style="font-family:'Liberation Serif';font-weight:bold;font-size:19.5px;font-kerning:none;letter-spacing:0.000px;stroke:#000;stroke-width:0.3px;stroke-linejoin:round">WJ</text>
<text transform="scale(0.8338,1)" x="634.77" y="1059.80" fill="#000" style="font-family:'Liberation Serif';font-weight:bold;font-size:19.5px;font-kerning:none;letter-spacing:0.000px;stroke:#000;stroke-width:0.3px;stroke-linejoin:round">WP</text>
<text transform="scale(0.9341,1)" x="659.67" y="1059.80" fill="#000" style="font-family:'Liberation Serif';font-weight:bold;font-size:19.5px;font-kerning:none;letter-spacing:0.000px;stroke:#000;stroke-width:0.3px;stroke-linejoin:round">OA</text>
<g transform="translate(15.80,0) rotate(-90)">
<text transform="scale(1.1000,1)" x="-937.61" y="0.00" fill="#000" style="font-family:'Liberation Serif';font-weight:bold;font-size:19.5px;font-kerning:none;letter-spacing:0.927px;stroke:#000;stroke-width:0.3px;stroke-linejoin:round">Prob</text>
</g>
<g transform="translate(15.80,0) rotate(-90)">
<text transform="scale(1.1000,1)" x="-882.95" y="0.00" fill="#000" style="font-family:'Liberation Serif';font-weight:bold;font-size:19.5px;font-kerning:none;letter-spacing:-2.569px;stroke:#000;stroke-width:0.3px;stroke-linejoin:round">(%)</text>
</g>
<line x1="100.91" y1="964.00" x2="124.91" y2="964.00" stroke="#f93e3e" stroke-width="2.3" stroke-linecap="round"/>
<circle cx="112.91" cy="964.00" r="5.95" fill="none" stroke="#f93e3e" stroke-width="2.2"/>
<line x1="187.92" y1="1013.00" x2="211.92" y2="1013.00" stroke="#f93e3e" stroke-width="2.3" stroke-linecap="round"/>
<circle cx="199.92" cy="1013.00" r="5.95" fill="none" stroke="#f93e3e" stroke-width="2.2"/>
<line x1="274.94" y1="1014.90" x2="298.94" y2="1014.90" stroke="#f93e3e" stroke-width="2.3" stroke-linecap="round"/>
<circle cx="286.94" cy="1014.90" r="5.95" fill="none" stroke="#f93e3e" stroke-width="2.2"/>
<line x1="361.95" y1="939.90" x2="385.95" y2="939.90" stroke="#f93e3e" stroke-width="2.3" stroke-linecap="round"/>
<circle cx="373.95" cy="939.90" r="5.95" fill="none" stroke="#f93e3e" stroke-width="2.2"/>
<line x1="448.96" y1="967.50" x2="472.96" y2="967.50" stroke="#f93e3e" stroke-width="2.3" stroke-linecap="round"/>
<circle cx="460.96" cy="967.50" r="5.95" fill="none" stroke="#f93e3e" stroke-width="2.2"/>
<line x1="535.98" y1="987.60" x2="559.98" y2="987.60" stroke="#f93e3e" stroke-width="2.3" stroke-linecap="round"/>
<circle cx="547.98" cy="987.60" r="5.95" fill="none" stroke="#f93e3e" stroke-width="2.2"/>
<line x1="622.99" y1="1016.10" x2="646.99" y2="1016.10" stroke="#f93e3e" stroke-width="2.3" stroke-linecap="round"/>
<circle cx="634.99" cy="1016.10" r="5.95" fill="none" stroke="#f93e3e" stroke-width="2.2"/>
<text transform="scale(1.1000,1)" x="304.48" y="1090.20" fill="#000" style="font-family:'Liberation Serif';font-weight:bold;font-size:19.5px;font-kerning:none;letter-spacing:0.517px;stroke:#000;stroke-width:0.3px;stroke-linejoin:round">Region</text>
<defs>
<clipPath id="mapclip"><rect x="69.3" y="1.3" width="241.2" height="224.0"/></clipPath>
<clipPath id="cHon"><polygon points="226.8,63.0 227.9,57.8 230.3,55.4 232.6,56.6 233.8,53.7 237.3,53.1 240.2,54.3 239.6,58.4 241.4,61.3 243.7,64.8 245.2,68.4 244.7,73.5 241.1,77.6 240.6,81.7 237.0,82.7 237.0,86.8 235.5,91.9 235.4,96.0 233.9,101.1 234.4,105.7 232.8,107.8 230.3,110.3 227.2,111.9 225.7,109.3 224.2,113.4 222.1,111.9 218.0,112.9 216.5,116.5 215.0,112.4 211.9,114.9 208.8,116.5 204.7,116.5 200.7,115.9 197.6,114.4 196.1,117.0 197.1,120.0 194.0,122.6 190.4,125.7 187.4,127.7 184.3,125.7 183.8,121.6 184.3,117.0 182.3,115.4 181.1,116.4 175.8,117.3 168.8,118.1 163.5,119.0 158.3,120.3 153.0,122.5 146.9,122.1 143.4,122.5 142.5,120.8 144.3,118.6 150.4,115.5 155.7,112.0 160.0,108.9 168.8,108.5 176.1,106.8 182.3,106.0 185.3,106.8 189.4,104.2 191.5,101.7 194.8,97.7 196.8,93.8 198.1,90.5 199.4,91.8 200.1,96.4 202.0,94.5 206.0,93.1 212.6,89.9 217.8,85.9 221.4,81.5 225.3,75.5 226.8,70.4 227.3,65.0"/></clipPath>
<clipPath id="cHok"><polygon points="244.8,14.6 247.1,17.3 251.2,21.3 254.7,24.3 259.4,26.9 265.0,28.4 270.1,29.4 273.1,27.9 276.2,26.4 275.2,29.9 275.7,33.0 281.3,34.5 276.2,36.6 271.1,38.1 266.0,39.6 260.9,42.7 257.3,47.3 253.0,46.7 247.2,44.3 243.1,42.6 238.4,43.2 235.5,44.3 232.6,43.8 230.8,44.9 233.2,46.7 236.7,49.6 230.3,51.4 226.8,52.5 226.2,49.0 224.4,45.5 225.6,41.4 226.7,41.2 230.2,37.7 230.2,36.0 236.6,36.0 238.9,34.8 238.9,30.7 241.9,26.6 242.4,22.5 241.6,19.6 240.7,17.0"/></clipPath>
<clipPath id="cKyu"><polygon points="129.4,129.5 132.9,128.2 137.3,126.0 141.6,124.3 146.0,124.7 148.6,126.9 150.8,133.0 149.1,138.3 146.9,143.5 143.4,147.9 139.9,149.2 135.9,147.9 135.9,143.5 136.4,140.0 135.5,136.5 137.7,134.8 137.3,132.2 134.6,133.9 131.1,133.5 129.4,131.3"/></clipPath>
</defs>
<g clip-path="url(#mapclip)">
<polygon points="244.8,14.6 247.1,17.3 251.2,21.3 254.7,24.3 259.4,26.9 265.0,28.4 270.1,29.4 273.1,27.9 276.2,26.4 275.2,29.9 275.7,33.0 281.3,34.5 276.2,36.6 271.1,38.1 266.0,39.6 260.9,42.7 257.3,47.3 253.0,46.7 247.2,44.3 243.1,42.6 238.4,43.2 235.5,44.3 232.6,43.8 230.8,44.9 233.2,46.7 236.7,49.6 230.3,51.4 226.8,52.5 226.2,49.0 224.4,45.5 225.6,41.4 226.7,41.2 230.2,37.7 230.2,36.0 236.6,36.0 238.9,34.8 238.9,30.7 241.9,26.6 242.4,22.5 241.6,19.6 240.7,17.0" fill="#0cc8cc"/>
<g clip-path="url(#cHok)"><polygon points="238.0,5.0 248.0,12.0 250.5,22.0 253.5,27.8 253.8,31.9 252.4,36.0 248.3,38.9 244.5,40.5 236.0,41.5 231.0,42.3 230.0,45.0 229.5,49.0 229.0,55.0 220.0,55.0 220.0,5.0" fill="#2038ff"/></g>
<polygon points="226.8,63.0 227.9,57.8 230.3,55.4 232.6,56.6 233.8,53.7 237.3,53.1 240.2,54.3 239.6,58.4 241.4,61.3 243.7,64.8 245.2,68.4 244.7,73.5 241.1,77.6 240.6,81.7 237.0,82.7 237.0,86.8 235.5,91.9 235.4,96.0 233.9,101.1 234.4,105.7 232.8,107.8 230.3,110.3 227.2,111.9 225.7,109.3 224.2,113.4 222.1,111.9 218.0,112.9 216.5,116.5 215.0,112.4 211.9,114.9 208.8,116.5 204.7,116.5 200.7,115.9 197.6,114.4 196.1,117.0 197.1,120.0 194.0,122.6 190.4,125.7 187.4,127.7 184.3,125.7 183.8,121.6 184.3,117.0 182.3,115.4 181.1,116.4 175.8,117.3 168.8,118.1 163.5,119.0 158.3,120.3 153.0,122.5 146.9,122.1 143.4,122.5 142.5,120.8 144.3,118.6 150.4,115.5 155.7,112.0 160.0,108.9 168.8,108.5 176.1,106.8 182.3,106.0 185.3,106.8 189.4,104.2 191.5,101.7 194.8,97.7 196.8,93.8 198.1,90.5 199.4,91.8 200.1,96.4 202.0,94.5 206.0,93.1 212.6,89.9 217.8,85.9 221.4,81.5 225.3,75.5 226.8,70.4 227.3,65.0" fill="#a2e837"/>
<g clip-path="url(#cHon)">
<polygon points="225.0,45.0 250.0,45.0 250.0,95.5 226.0,95.5" fill="#0cc8cc"/>
<polygon points="215.0,45.0 235.5,45.0 235.5,62.0 234.5,70.0 233.0,76.0 231.0,84.0 228.5,90.5 227.0,95.5 221.0,95.5 224.7,81.7 215.0,81.7" fill="#2038ff"/>
<polygon points="189.0,104.5 191.0,101.0 195.0,96.5 198.0,89.0 201.0,92.0 206.0,92.5 213.0,89.0 218.0,85.0 221.0,80.0 224.7,81.7 221.0,95.5 213.0,95.0 206.0,98.0 200.0,101.0 196.0,105.0 192.0,107.5" fill="#0acd0a"/>
<polygon points="138.0,100.0 189.0,100.0 189.0,108.0 193.5,108.0 193.5,114.4 188.4,114.4 188.4,109.4 184.6,109.4 177.6,110.3 168.8,111.1 160.0,112.9 153.9,118.1 153.0,124.0 138.0,124.0" fill="#f0872d"/>
<polygon points="153.9,118.1 160.0,112.9 168.8,111.1 177.6,110.3 184.6,109.4 188.4,109.4 188.4,114.4 190.5,114.4 190.5,130.0 150.0,130.0" fill="#aa14d7"/>
</g>
<polygon points="155.7,127.8 158.3,124.3 161.8,122.5 166.2,123.4 169.7,121.2 174.9,121.2 177.6,123.8 174.9,126.5 172.3,128.6 167.9,128.2 164.4,130.4 161.3,133.5 157.4,132.6 155.2,130.4" fill="#aa14d7"/>
<polygon points="129.4,129.5 132.9,128.2 137.3,126.0 141.6,124.3 146.0,124.7 148.6,126.9 150.8,133.0 149.1,138.3 146.9,143.5 143.4,147.9 139.9,149.2 135.9,147.9 135.9,143.5 136.4,140.0 135.5,136.5 137.7,134.8 137.3,132.2 134.6,133.9 131.1,133.5 129.4,131.3" fill="#aa14d7"/>
<g clip-path="url(#cKyu)"><polygon points="126.0,118.0 153.0,118.0 151.0,132.0 146.0,134.5 143.5,138.5 140.0,141.0 134.0,142.0 126.0,136.0" fill="#f0872d"/></g>
<polygon points="290.4,25.0 296.0,19.9 300.1,16.3 305.0,14.6 309.3,13.5 301.1,17.9 292.9,24.0" fill="#0cc8cc"/>
<rect x="211.5" y="83.6" width="1.4" height="2.4" fill="#0acd0a"/>
<rect x="164.5" y="101.3" width="1.3" height="1.3" fill="#f0872d"/>
<rect x="127.5" y="116.6" width="1.3" height="1.3" fill="#f0872d"/>
<rect x="282.5" y="25.6" width="3.2" height="1.2" fill="#0cc8cc"/>
<rect x="134.2" y="137.6" width="1.2" height="1.5" fill="#f0872d"/>
<polyline points="60.0,69.7 69.3,69.7 74.3,68.4 79.5,67.7 84.8,69.1 92.0,71.0 90.0,76.3 87.4,81.5 85.4,84.8 90.7,88.8 96.6,88.1 101.2,90.1 104.2,94.7 99.2,95.3 101.2,100.6 103.8,106.5 100.5,110.4 99.2,112.0 99.9,114.4 102.5,119.7 108.4,117.1 116.3,114.5 121.6,112.4 124.2,113.1 127.5,109.2 128.8,100.0 128.1,96.0 126.8,93.4 124.2,86.8 118.9,78.9 113.7,75.0 109.7,73.0 110.4,69.7 109.1,67.7 115.0,66.4 121.6,63.1 125.8,60.6 131.0,58.4 130.2,51.8 134.6,47.0 140.4,45.3 141.9,42.3 144.8,42.8 150.7,35.8 155.8,36.2 156.5,39.4 162.3,41.6 168.2,40.1 174.0,36.5 179.9,34.3 184.2,30.7 187.2,26.3 193.0,22.6 201.8,15.3 207.6,10.9 211.2,5.8 212.0,-5.0" fill="none" stroke="#000" stroke-width="2.3" stroke-linejoin="round"/>
<polyline points="243.8,-5.0 243.8,1.3 242.9,5.3 243.8,8.8 245.5,12.0 247.3,8.8 249.6,5.8 252.5,4.7 255.4,5.3 258.4,8.2 258.9,5.3 258.4,-5.0" fill="none" stroke="#000" stroke-width="2.3" stroke-linejoin="round"/>
<polygon points="244.8,14.6 247.1,17.3 251.2,21.3 254.7,24.3 259.4,26.9 265.0,28.4 270.1,29.4 273.1,27.9 276.2,26.4 275.2,29.9 275.7,33.0 281.3,34.5 276.2,36.6 271.1,38.1 266.0,39.6 260.9,42.7 257.3,47.3 253.0,46.7 247.2,44.3 243.1,42.6 238.4,43.2 235.5,44.3 232.6,43.8 230.8,44.9 233.2,46.7 236.7,49.6 230.3,51.4 226.8,52.5 226.2,49.0 224.4,45.5 225.6,41.4 226.7,41.2 230.2,37.7 230.2,36.0 236.6,36.0 238.9,34.8 238.9,30.7 241.9,26.6 242.4,22.5 241.6,19.6 240.7,17.0" fill="none" stroke="#000" stroke-width="2.3" stroke-linejoin="round"/>
<polygon points="226.8,63.0 227.9,57.8 230.3,55.4 232.6,56.6 233.8,53.7 237.3,53.1 240.2,54.3 239.6,58.4 241.4,61.3 243.7,64.8 245.2,68.4 244.7,73.5 241.1,77.6 240.6,81.7 237.0,82.7 237.0,86.8 235.5,91.9 235.4,96.0 233.9,101.1 234.4,105.7 232.8,107.8 230.3,110.3 227.2,111.9 225.7,109.3 224.2,113.4 222.1,111.9 218.0,112.9 216.5,116.5 215.0,112.4 211.9,114.9 208.8,116.5 204.7,116.5 200.7,115.9 197.6,114.4 196.1,117.0 197.1,120.0 194.0,122.6 190.4,125.7 187.4,127.7 184.3,125.7 183.8,121.6 184.3,117.0 182.3,115.4 181.1,116.4 175.8,117.3 168.8,118.1 163.5,119.0 158.3,120.3 153.0,122.5 146.9,122.1 143.4,122.5 142.5,120.8 144.3,118.6 150.4,115.5 155.7,112.0 160.0,108.9 168.8,108.5 176.1,106.8 182.3,106.0 185.3,106.8 189.4,104.2 191.5,101.7 194.8,97.7 196.8,93.8 198.1,90.5 199.4,91.8 200.1,96.4 202.0,94.5 206.0,93.1 212.6,89.9 217.8,85.9 221.4,81.5 225.3,75.5 226.8,70.4 227.3,65.0" fill="none" stroke="#000" stroke-width="2.3" stroke-linejoin="round"/>
<polygon points="155.7,127.8 158.3,124.3 161.8,122.5 166.2,123.4 169.7,121.2 174.9,121.2 177.6,123.8 174.9,126.5 172.3,128.6 167.9,128.2 164.4,130.4 161.3,133.5 157.4,132.6 155.2,130.4" fill="none" stroke="#000" stroke-width="2.3" stroke-linejoin="round"/>
<polygon points="129.4,129.5 132.9,128.2 137.3,126.0 141.6,124.3 146.0,124.7 148.6,126.9 150.8,133.0 149.1,138.3 146.9,143.5 143.4,147.9 139.9,149.2 135.9,147.9 135.9,143.5 136.4,140.0 135.5,136.5 137.7,134.8 137.3,132.2 134.6,133.9 131.1,133.5 129.4,131.3" fill="none" stroke="#000" stroke-width="2.3" stroke-linejoin="round"/>
<polygon points="290.4,25.0 296.0,19.9 300.1,16.3 305.0,14.6 309.3,13.5 301.1,17.9 292.9,24.0" fill="none" stroke="#000" stroke-width="2.3" stroke-linejoin="round"/>
<line x1="75.6" y1="213.6" x2="80.2" y2="211.6" stroke="#f93e3e" stroke-width="2"/>
<line x1="112.4" y1="196.3" x2="118.6" y2="189.6" stroke="#f93e3e" stroke-width="2"/>
<line x1="126.7" y1="176.9" x2="130.3" y2="174.8" stroke="#f93e3e" stroke-width="2"/>
<rect x="89.0" y="207.5" width="2" height="2" fill="#f93e3e"/>
<rect x="102.7" y="193.7" width="2" height="2" fill="#f93e3e"/>
<rect x="120.1" y="183" width="2" height="2" fill="#f93e3e"/>
<rect x="123.7" y="179.4" width="2" height="2" fill="#f93e3e"/>
</g>
<rect x="69.3" y="1.3" width="241.2" height="224.0" fill="none" stroke="#000" stroke-width="2.5"/>
<line x1="64.1" y1="19.9" x2="69.3" y2="19.9" stroke="#000" stroke-width="2"/>
<text transform="scale(0.9819,1)" x="33.69" y="25.20" fill="#000" style="font-family:'Liberation Serif';font-weight:bold;font-size:16.4px;font-kerning:none;letter-spacing:0.000px;stroke:#000;stroke-width:0.35px;stroke-linejoin:round">45N</text>
<line x1="64.1" y1="66.7" x2="69.3" y2="66.7" stroke="#000" stroke-width="2"/>
<text transform="scale(0.9819,1)" x="33.69" y="72.00" fill="#000" style="font-family:'Liberation Serif';font-weight:bold;font-size:16.4px;font-kerning:none;letter-spacing:0.000px;stroke:#000;stroke-width:0.35px;stroke-linejoin:round">40N</text>
<line x1="64.1" y1="113.5" x2="69.3" y2="113.5" stroke="#000" stroke-width="2"/>
<text transform="scale(0.9960,1)" x="32.82" y="118.80" fill="#000" style="font-family:'Liberation Serif';font-weight:bold;font-size:16.4px;font-kerning:none;letter-spacing:0.000px;stroke:#000;stroke-width:0.35px;stroke-linejoin:round">35N</text>
<line x1="64.1" y1="160.3" x2="69.3" y2="160.3" stroke="#000" stroke-width="2"/>
<text transform="scale(0.9960,1)" x="32.82" y="165.60" fill="#000" style="font-family:'Liberation Serif';font-weight:bold;font-size:16.4px;font-kerning:none;letter-spacing:0.000px;stroke:#000;stroke-width:0.35px;stroke-linejoin:round">30N</text>
<line x1="64.1" y1="207.1" x2="69.3" y2="207.1" stroke="#000" stroke-width="2"/>
<text transform="scale(0.9986,1)" x="32.66" y="212.40" fill="#000" style="font-family:'Liberation Serif';font-weight:bold;font-size:16.4px;font-kerning:none;letter-spacing:0.000px;stroke:#000;stroke-width:0.35px;stroke-linejoin:round">25N</text>
<line x1="88.1" y1="225.3" x2="88.1" y2="230.1" stroke="#000" stroke-width="2"/>
<text transform="scale(0.9945,1)" x="71.39" y="244.60" fill="#000" style="font-family:'Liberation Serif';font-weight:bold;font-size:16.4px;font-kerning:none;letter-spacing:0.000px;stroke:#000;stroke-width:0.35px;stroke-linejoin:round">125E</text>
<line x1="134.4" y1="225.3" x2="134.4" y2="230.1" stroke="#000" stroke-width="2"/>
<text transform="scale(0.9945,1)" x="117.95" y="244.60" fill="#000" style="font-family:'Liberation Serif';font-weight:bold;font-size:16.4px;font-kerning:none;letter-spacing:0.000px;stroke:#000;stroke-width:0.35px;stroke-linejoin:round">130E</text>
<line x1="180.7" y1="225.3" x2="180.7" y2="230.1" stroke="#000" stroke-width="2"/>
<text transform="scale(0.9945,1)" x="164.50" y="244.60" fill="#000" style="font-family:'Liberation Serif';font-weight:bold;font-size:16.4px;font-kerning:none;letter-spacing:0.000px;stroke:#000;stroke-width:0.35px;stroke-linejoin:round">135E</text>
<line x1="227.0" y1="225.3" x2="227.0" y2="230.1" stroke="#000" stroke-width="2"/>
<text transform="scale(0.9945,1)" x="211.06" y="244.60" fill="#000" style="font-family:'Liberation Serif';font-weight:bold;font-size:16.4px;font-kerning:none;letter-spacing:0.000px;stroke:#000;stroke-width:0.35px;stroke-linejoin:round">140E</text>
<line x1="273.3" y1="225.3" x2="273.3" y2="230.1" stroke="#000" stroke-width="2"/>
<text transform="scale(0.9945,1)" x="257.62" y="244.60" fill="#000" style="font-family:'Liberation Serif';font-weight:bold;font-size:16.4px;font-kerning:none;letter-spacing:0.000px;stroke:#000;stroke-width:0.35px;stroke-linejoin:round">145E</text>
<text transform="scale(0.9559,1)" x="197.59" y="55.20" fill="#2038ff" style="font-family:'Liberation Serif';font-weight:bold;font-size:23.4px;font-kerning:none;letter-spacing:0.000px">NJ</text>
<text transform="scale(1.0039,1)" x="250.39" y="74.40" fill="#0cc8cc" style="font-family:'Liberation Serif';font-weight:bold;font-size:23.4px;font-kerning:none;letter-spacing:0.000px">NP</text>
<text transform="scale(0.9784,1)" x="174.17" y="87.50" fill="#0acd0a" style="font-family:'Liberation Serif';font-weight:bold;font-size:23.4px;font-kerning:none;letter-spacing:0.000px">EJ</text>
<text transform="scale(1.0299,1)" x="198.65" y="140.20" fill="#a2e837" style="font-family:'Liberation Serif';font-weight:bold;font-size:23.4px;font-kerning:none;letter-spacing:0.000px">EP</text>
<text transform="scale(0.8204,1)" x="160.93" y="107.60" fill="#f0872d" style="font-family:'Liberation Serif';font-weight:bold;font-size:23.4px;font-kerning:none;letter-spacing:0.000px">WJ</text>
<text transform="scale(0.8093,1)" x="191.57" y="154.30" fill="#aa14d7" style="font-family:'Liberation Serif';font-weight:bold;font-size:23.4px;font-kerning:none;letter-spacing:0.000px">WP</text>
<text transform="scale(0.8583,1)" x="93.69" y="186.60" fill="#f93e3e" style="font-family:'Liberation Serif';font-weight:bold;font-size:23.4px;font-kerning:none;letter-spacing:0.000px">OA</text>
<text transform="scale(0.9300,1)" x="347.32" y="26.00" fill="#2038ff" style="font-family:'Liberation Serif';font-weight:bold;font-size:16.3px;font-kerning:none;letter-spacing:0.000px;stroke:#2038ff;stroke-width:0.5px;stroke-linejoin:round">NJ</text>
<text transform="scale(1.1000,1)" x="317.07" y="26.00" fill="#2038ff" style="font-family:'Liberation Serif';font-weight:bold;font-size:16.3px;font-kerning:none;letter-spacing:0.000px;stroke:#2038ff;stroke-width:0.5px;stroke-linejoin:round">:</text>
<text transform="scale(1.1000,1)" x="328.62" y="26.00" fill="#2038ff" style="font-family:'Liberation Serif';font-weight:bold;font-size:16.3px;font-kerning:none;letter-spacing:0.701px;stroke:#2038ff;stroke-width:0.5px;stroke-linejoin:round">Japan</text>
<text transform="scale(1.1000,1)" x="381.19" y="26.00" fill="#2038ff" style="font-family:'Liberation Serif';font-weight:bold;font-size:16.3px;font-kerning:none;letter-spacing:0.701px;stroke:#2038ff;stroke-width:0.5px;stroke-linejoin:round">Sea</text>
<text transform="scale(1.1000,1)" x="414.60" y="26.00" fill="#2038ff" style="font-family:'Liberation Serif';font-weight:bold;font-size:16.3px;font-kerning:none;letter-spacing:0.701px;stroke:#2038ff;stroke-width:0.5px;stroke-linejoin:round">side</text>
<text transform="scale(1.1000,1)" x="451.13" y="26.00" fill="#2038ff" style="font-family:'Liberation Serif';font-weight:bold;font-size:16.3px;font-kerning:none;letter-spacing:0.701px;stroke:#2038ff;stroke-width:0.5px;stroke-linejoin:round">of</text>
<text transform="scale(1.1000,1)" x="473.42" y="26.00" fill="#2038ff" style="font-family:'Liberation Serif';font-weight:bold;font-size:16.3px;font-kerning:none;letter-spacing:0.701px;stroke:#2038ff;stroke-width:0.5px;stroke-linejoin:round">northern</text>
<text transform="scale(1.1000,1)" x="548.14" y="26.00" fill="#2038ff" style="font-family:'Liberation Serif';font-weight:bold;font-size:16.3px;font-kerning:none;letter-spacing:0.701px;stroke:#2038ff;stroke-width:0.5px;stroke-linejoin:round">Japan</text>
<text transform="scale(0.9300,1)" x="347.32" y="46.72" fill="#0cc8cc" style="font-family:'Liberation Serif';font-weight:bold;font-size:16.3px;font-kerning:none;letter-spacing:0.000px;stroke:#0cc8cc;stroke-width:0.5px;stroke-linejoin:round">NP</text>
<text transform="scale(1.1000,1)" x="318.59" y="46.72" fill="#0cc8cc" style="font-family:'Liberation Serif';font-weight:bold;font-size:16.3px;font-kerning:none;letter-spacing:0.000px;stroke:#0cc8cc;stroke-width:0.5px;stroke-linejoin:round">:</text>
<text transform="scale(1.1000,1)" x="330.58" y="46.72" fill="#0cc8cc" style="font-family:'Liberation Serif';font-weight:bold;font-size:16.3px;font-kerning:none;letter-spacing:0.771px;stroke:#0cc8cc;stroke-width:0.5px;stroke-linejoin:round">Pacific</text>
<text transform="scale(1.1000,1)" x="389.36" y="46.72" fill="#0cc8cc" style="font-family:'Liberation Serif';font-weight:bold;font-size:16.3px;font-kerning:none;letter-spacing:0.771px;stroke:#0cc8cc;stroke-width:0.5px;stroke-linejoin:round">Ocean</text>
<text transform="scale(1.1000,1)" x="444.37" y="46.72" fill="#0cc8cc" style="font-family:'Liberation Serif';font-weight:bold;font-size:16.3px;font-kerning:none;letter-spacing:0.771px;stroke:#0cc8cc;stroke-width:0.5px;stroke-linejoin:round">side</text>
<text transform="scale(1.1000,1)" x="481.11" y="46.72" fill="#0cc8cc" style="font-family:'Liberation Serif';font-weight:bold;font-size:16.3px;font-kerning:none;letter-spacing:0.771px;stroke:#0cc8cc;stroke-width:0.5px;stroke-linejoin:round">of</text>
<text transform="scale(1.1000,1)" x="503.47" y="46.72" fill="#0cc8cc" style="font-family:'Liberation Serif';font-weight:bold;font-size:16.3px;font-kerning:none;letter-spacing:0.771px;stroke:#0cc8cc;stroke-width:0.5px;stroke-linejoin:round">northern</text>
<text transform="scale(1.1000,1)" x="578.67" y="46.72" fill="#0cc8cc" style="font-family:'Liberation Serif';font-weight:bold;font-size:16.3px;font-kerning:none;letter-spacing:0.771px;stroke:#0cc8cc;stroke-width:0.5px;stroke-linejoin:round">Japan</text>
<text transform="scale(0.9300,1)" x="347.36" y="67.44" fill="#0acd0a" style="font-family:'Liberation Serif';font-weight:bold;font-size:16.3px;font-kerning:none;letter-spacing:0.000px;stroke:#0acd0a;stroke-width:0.5px;stroke-linejoin:round">EJ</text>
<text transform="scale(1.1000,1)" x="316.34" y="67.44" fill="#0acd0a" style="font-family:'Liberation Serif';font-weight:bold;font-size:16.3px;font-kerning:none;letter-spacing:0.000px;stroke:#0acd0a;stroke-width:0.5px;stroke-linejoin:round">:</text>
<text transform="scale(1.1000,1)" x="327.89" y="67.44" fill="#0acd0a" style="font-family:'Liberation Serif';font-weight:bold;font-size:16.3px;font-kerning:none;letter-spacing:0.754px;stroke:#0acd0a;stroke-width:0.5px;stroke-linejoin:round">Japan</text>
<text transform="scale(1.1000,1)" x="380.67" y="67.44" fill="#0acd0a" style="font-family:'Liberation Serif';font-weight:bold;font-size:16.3px;font-kerning:none;letter-spacing:0.754px;stroke:#0acd0a;stroke-width:0.5px;stroke-linejoin:round">Sea</text>
<text transform="scale(1.1000,1)" x="414.18" y="67.44" fill="#0acd0a" style="font-family:'Liberation Serif';font-weight:bold;font-size:16.3px;font-kerning:none;letter-spacing:0.754px;stroke:#0acd0a;stroke-width:0.5px;stroke-linejoin:round">side</text>
<text transform="scale(1.1000,1)" x="450.87" y="67.44" fill="#0acd0a" style="font-family:'Liberation Serif';font-weight:bold;font-size:16.3px;font-kerning:none;letter-spacing:0.754px;stroke:#0acd0a;stroke-width:0.5px;stroke-linejoin:round">of</text>
<text transform="scale(1.1000,1)" x="473.11" y="67.44" fill="#0acd0a" style="font-family:'Liberation Serif';font-weight:bold;font-size:16.3px;font-kerning:none;letter-spacing:0.754px;stroke:#0acd0a;stroke-width:0.5px;stroke-linejoin:round">eastern</text>
<text transform="scale(1.1000,1)" x="535.65" y="67.44" fill="#0acd0a" style="font-family:'Liberation Serif';font-weight:bold;font-size:16.3px;font-kerning:none;letter-spacing:0.754px;stroke:#0acd0a;stroke-width:0.5px;stroke-linejoin:round">Japan</text>
<text transform="scale(0.9300,1)" x="347.36" y="88.16" fill="#a2e837" style="font-family:'Liberation Serif';font-weight:bold;font-size:16.3px;font-kerning:none;letter-spacing:0.000px;stroke:#a2e837;stroke-width:0.5px;stroke-linejoin:round">EP</text>
<text transform="scale(1.1000,1)" x="317.85" y="88.16" fill="#a2e837" style="font-family:'Liberation Serif';font-weight:bold;font-size:16.3px;font-kerning:none;letter-spacing:0.000px;stroke:#a2e837;stroke-width:0.5px;stroke-linejoin:round">:</text>
<text transform="scale(1.1000,1)" x="329.85" y="88.16" fill="#a2e837" style="font-family:'Liberation Serif';font-weight:bold;font-size:16.3px;font-kerning:none;letter-spacing:0.761px;stroke:#a2e837;stroke-width:0.5px;stroke-linejoin:round">Pacific</text>
<text transform="scale(1.1000,1)" x="388.57" y="88.16" fill="#a2e837" style="font-family:'Liberation Serif';font-weight:bold;font-size:16.3px;font-kerning:none;letter-spacing:0.761px;stroke:#a2e837;stroke-width:0.5px;stroke-linejoin:round">Ocean</text>
<text transform="scale(1.1000,1)" x="443.54" y="88.16" fill="#a2e837" style="font-family:'Liberation Serif';font-weight:bold;font-size:16.3px;font-kerning:none;letter-spacing:0.761px;stroke:#a2e837;stroke-width:0.5px;stroke-linejoin:round">side</text>
<text transform="scale(1.1000,1)" x="480.25" y="88.16" fill="#a2e837" style="font-family:'Liberation Serif';font-weight:bold;font-size:16.3px;font-kerning:none;letter-spacing:0.761px;stroke:#a2e837;stroke-width:0.5px;stroke-linejoin:round">of</text>
<text transform="scale(1.1000,1)" x="502.49" y="88.16" fill="#a2e837" style="font-family:'Liberation Serif';font-weight:bold;font-size:16.3px;font-kerning:none;letter-spacing:0.761px;stroke:#a2e837;stroke-width:0.5px;stroke-linejoin:round">eastern</text>
<text transform="scale(1.1000,1)" x="565.08" y="88.16" fill="#a2e837" style="font-family:'Liberation Serif';font-weight:bold;font-size:16.3px;font-kerning:none;letter-spacing:0.761px;stroke:#a2e837;stroke-width:0.5px;stroke-linejoin:round">Japan</text>
<text transform="scale(0.9300,1)" x="347.40" y="108.88" fill="#f0872d" style="font-family:'Liberation Serif';font-weight:bold;font-size:16.3px;font-kerning:none;letter-spacing:0.000px;stroke:#f0872d;stroke-width:0.5px;stroke-linejoin:round">WJ</text>
<text transform="scale(1.1000,1)" x="320.97" y="108.88" fill="#f0872d" style="font-family:'Liberation Serif';font-weight:bold;font-size:16.3px;font-kerning:none;letter-spacing:0.000px;stroke:#f0872d;stroke-width:0.5px;stroke-linejoin:round">:</text>
<text transform="scale(1.1000,1)" x="332.52" y="108.88" fill="#f0872d" style="font-family:'Liberation Serif';font-weight:bold;font-size:16.3px;font-kerning:none;letter-spacing:0.462px;stroke:#f0872d;stroke-width:0.5px;stroke-linejoin:round">Japan</text>
<text transform="scale(1.1000,1)" x="384.13" y="108.88" fill="#f0872d" style="font-family:'Liberation Serif';font-weight:bold;font-size:16.3px;font-kerning:none;letter-spacing:0.462px;stroke:#f0872d;stroke-width:0.5px;stroke-linejoin:round">Sea</text>
<text transform="scale(1.1000,1)" x="417.06" y="108.88" fill="#f0872d" style="font-family:'Liberation Serif';font-weight:bold;font-size:16.3px;font-kerning:none;letter-spacing:0.462px;stroke:#f0872d;stroke-width:0.5px;stroke-linejoin:round">side</text>
<text transform="scale(1.1000,1)" x="452.87" y="108.88" fill="#f0872d" style="font-family:'Liberation Serif';font-weight:bold;font-size:16.3px;font-kerning:none;letter-spacing:0.462px;stroke:#f0872d;stroke-width:0.5px;stroke-linejoin:round">of</text>
<text transform="scale(1.1000,1)" x="475.32" y="108.88" fill="#f0872d" style="font-family:'Liberation Serif';font-weight:bold;font-size:16.3px;font-kerning:none;letter-spacing:0.462px;stroke:#f0872d;stroke-width:0.5px;stroke-linejoin:round">western</text>
<text transform="scale(1.1000,1)" x="539.73" y="108.88" fill="#f0872d" style="font-family:'Liberation Serif';font-weight:bold;font-size:16.3px;font-kerning:none;letter-spacing:0.462px;stroke:#f0872d;stroke-width:0.5px;stroke-linejoin:round">Japan</text>
<text transform="scale(0.9300,1)" x="347.40" y="129.60" fill="#aa14d7" style="font-family:'Liberation Serif';font-weight:bold;font-size:16.3px;font-kerning:none;letter-spacing:0.000px;stroke:#aa14d7;stroke-width:0.5px;stroke-linejoin:round">WP</text>
<text transform="scale(1.1000,1)" x="322.48" y="129.60" fill="#aa14d7" style="font-family:'Liberation Serif';font-weight:bold;font-size:16.3px;font-kerning:none;letter-spacing:0.000px;stroke:#aa14d7;stroke-width:0.5px;stroke-linejoin:round">:</text>
<text transform="scale(1.1000,1)" x="334.47" y="129.60" fill="#aa14d7" style="font-family:'Liberation Serif';font-weight:bold;font-size:16.3px;font-kerning:none;letter-spacing:0.529px;stroke:#aa14d7;stroke-width:0.5px;stroke-linejoin:round">Pacific</text>
<text transform="scale(1.1000,1)" x="391.81" y="129.60" fill="#aa14d7" style="font-family:'Liberation Serif';font-weight:bold;font-size:16.3px;font-kerning:none;letter-spacing:0.529px;stroke:#aa14d7;stroke-width:0.5px;stroke-linejoin:round">Ocean</text>
<text transform="scale(1.1000,1)" x="445.84" y="129.60" fill="#aa14d7" style="font-family:'Liberation Serif';font-weight:bold;font-size:16.3px;font-kerning:none;letter-spacing:0.529px;stroke:#aa14d7;stroke-width:0.5px;stroke-linejoin:round">side</text>
<text transform="scale(1.1000,1)" x="481.86" y="129.60" fill="#aa14d7" style="font-family:'Liberation Serif';font-weight:bold;font-size:16.3px;font-kerning:none;letter-spacing:0.529px;stroke:#aa14d7;stroke-width:0.5px;stroke-linejoin:round">of</text>
<text transform="scale(1.1000,1)" x="504.37" y="129.60" fill="#aa14d7" style="font-family:'Liberation Serif';font-weight:bold;font-size:16.3px;font-kerning:none;letter-spacing:0.529px;stroke:#aa14d7;stroke-width:0.5px;stroke-linejoin:round">western</text>
<text transform="scale(1.1000,1)" x="569.19" y="129.60" fill="#aa14d7" style="font-family:'Liberation Serif';font-weight:bold;font-size:16.3px;font-kerning:none;letter-spacing:0.529px;stroke:#aa14d7;stroke-width:0.5px;stroke-linejoin:round">Japan</text>
<text transform="scale(0.9300,1)" x="346.84" y="150.32" fill="#f93e3e" style="font-family:'Liberation Serif';font-weight:bold;font-size:16.3px;font-kerning:none;letter-spacing:0.000px;stroke:#f93e3e;stroke-width:0.5px;stroke-linejoin:round">OA</text>
<text transform="scale(1.1000,1)" x="320.77" y="150.32" fill="#f93e3e" style="font-family:'Liberation Serif';font-weight:bold;font-size:16.3px;font-kerning:none;letter-spacing:0.000px;stroke:#f93e3e;stroke-width:0.5px;stroke-linejoin:round">:</text>
<text transform="scale(1.1000,1)" x="332.24" y="150.32" fill="#f93e3e" style="font-family:'Liberation Serif';font-weight:bold;font-size:16.3px;font-kerning:none;letter-spacing:-0.088px;stroke:#f93e3e;stroke-width:0.5px;stroke-linejoin:round">Okinawa</text>
<text transform="scale(1.1000,1)" x="402.65" y="150.32" fill="#f93e3e" style="font-family:'Liberation Serif';font-weight:bold;font-size:16.3px;font-kerning:none;letter-spacing:-0.088px;stroke:#f93e3e;stroke-width:0.5px;stroke-linejoin:round">and</text>
<text transform="scale(1.1000,1)" x="436.71" y="150.32" fill="#f93e3e" style="font-family:'Liberation Serif';font-weight:bold;font-size:16.3px;font-kerning:none;letter-spacing:-0.088px;stroke:#f93e3e;stroke-width:0.5px;stroke-linejoin:round">Amami</text>
</svg>
</body></html>
